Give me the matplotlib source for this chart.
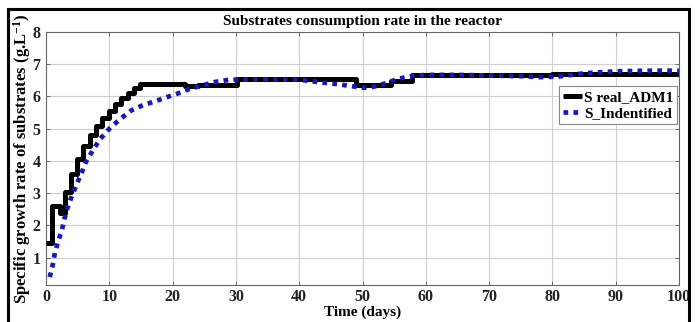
import matplotlib
matplotlib.use("Agg")
import matplotlib.pyplot as plt
from matplotlib.patches import Rectangle

# --- data ---
real_x = [0, 0.9, 2.2, 3.0, 3.9, 4.85, 5.8, 6.95, 7.9, 8.9, 9.9, 10.9, 11.9, 12.9,
          13.9, 14.8, 22, 24, 30.1, 49, 54.5, 57.8, 80, 100]
real_v = [1.45, 2.6, 2.4, 3.05, 3.6, 4.07, 4.48, 4.82, 5.1, 5.32, 5.55, 5.76, 5.95, 6.12,
          6.27, 6.38, 6.33, 6.37, 6.53, 6.35, 6.48, 6.66, 6.7, 6.7]

ident_x = [0.6, 1.05, 1.4, 1.9, 2.5, 2.9, 3.4, 4.05, 4.85, 5.6, 6.3, 7.4, 8.5, 10,
           11.7, 13.5, 15.3, 17.2, 19.1, 20.9, 22.7, 24.8, 26.7, 29, 35, 40, 44.3,
           46.2, 48.3, 50.1, 51.7, 53.5, 55.4, 57.2, 60, 65, 70, 75, 78, 81, 85, 90, 95, 100]
ident_v = [0.4, 0.77, 1.15, 1.5, 1.85, 2.2, 2.55, 2.9, 3.28, 3.62, 3.97, 4.33, 4.67, 5.0,
           5.3, 5.57, 5.73, 5.85, 5.98, 6.1, 6.24, 6.35, 6.45, 6.52, 6.53, 6.52, 6.42,
           6.38, 6.32, 6.27, 6.3, 6.4, 6.53, 6.62, 6.67, 6.67, 6.65, 6.63, 6.6, 6.62, 6.72, 6.78, 6.8, 6.8]

x_ticks = [0, 10, 20, 30, 40, 50, 60, 70, 80, 90, 100]
y_ticks = [1, 2, 3, 4, 5, 6, 7, 8]
labels = ["S real_ADM1", "S_Indentified"]
title = "Substrates consumption rate in the reactor"
xlabel = "Time (days)"
ylabel = "Specific growth rate of substrates (g.L$^{-1}$)"

plt.rcParams["font.family"] = ["Liberation Serif", "DejaVu Serif"]
plt.rcParams["font.weight"] = "bold"
plt.rcParams["mathtext.fontset"] = "custom"
plt.rcParams["mathtext.rm"] = "Liberation Serif:bold"
plt.rcParams["mathtext.default"] = "rm"

fig = plt.figure(figsize=(7.0, 3.22), dpi=100)
ax = fig.add_axes([46 / 700, 37 / 322, 633 / 700, 253 / 322])

ax.plot(real_x, real_v, drawstyle="steps-post", color="black", lw=3.6,
        solid_capstyle="butt", label=labels[0], zorder=3)
ax.plot(ident_x, ident_v, color="#1818b8", lw=3.4, linestyle=(0, (1.0, 1.1)),
        dash_capstyle="butt", label=labels[1], zorder=4)

ax.set_xlim(0, 100)
ax.set_ylim(0.155, 8)
ax.set_xticks(x_ticks)
ax.set_yticks(y_ticks)
ax.tick_params(direction="in", length=3, width=0.6, labelsize=11.5, pad=4,
               color="#555555", top=True, right=True)
ax.tick_params(axis="x", pad=3)
for lab in ax.get_xticklabels() + ax.get_yticklabels():
    lab.set_fontweight("bold")
    lab.set_color("#222222")
ax.grid(True, color="#cfcfcf", lw=0.8)
ax.set_axisbelow(True)
for s in ax.spines.values():
    s.set_color("#666666")
    s.set_linewidth(0.8)

ax.set_title(title, fontsize=11, fontweight="bold", pad=5)
ax.set_xlabel(xlabel, fontsize=11, fontweight="bold", labelpad=0)
ax.set_ylabel(ylabel, fontsize=12, fontweight="bold")
ax.yaxis.set_label_coords(-0.021, 0.5)

leg = ax.legend(loc="upper right", bbox_to_anchor=(0.997, 0.785), fontsize=11,
                handlelength=1.2, handletextpad=0.15, borderpad=0.25,
                labelspacing=0.15, borderaxespad=0.0, fancybox=False,
                framealpha=1.0, edgecolor="#888888")
leg.get_frame().set_linewidth(0.8)
for t in leg.get_texts():
    t.set_fontweight("bold")

# outer black border of the figure
fig.patches.append(Rectangle((8 / 700, -0.1), 681 / 700, 1.1 - 9 / 322,
                             transform=fig.transFigure, fill=False,
                             edgecolor="black", lw=2.2, zorder=10))

fig.savefig("out.png", dpi=100)
